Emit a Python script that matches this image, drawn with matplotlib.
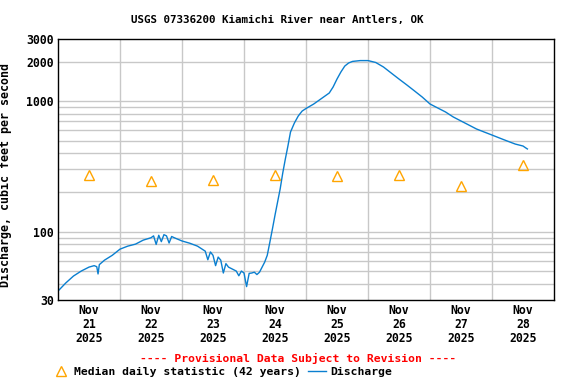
import matplotlib
matplotlib.use("Agg")
import matplotlib.pyplot as plt
from matplotlib.lines import Line2D
from matplotlib.ticker import FixedLocator, NullFormatter

# hours since Nov 21 2025 00:00
hours = [0, 3, 6, 9, 12, 14, 15, 15.5, 16, 18, 21, 24, 27, 30, 33, 36, 37, 38, 39, 40,
         41, 42, 43, 44, 45, 48, 51, 54, 57, 58, 59, 60, 61, 62, 63, 64, 65, 66, 69, 70,
         71, 72, 73, 74, 75, 76, 77, 78, 80, 81, 82, 83, 84, 85, 86, 87, 88, 89, 90, 91.5,
         93, 94.5, 96, 99, 102, 105, 106.5, 108, 109.5, 111, 112.5, 114, 117, 120, 123, 126, 129, 132, 135, 138,
         141, 144, 147, 150, 153, 156, 159, 162, 165, 168, 171, 174, 177, 180, 181, 181.7]
discharge = [35.1, 40.5, 45.8, 50, 53.6, 55, 54, 47.5, 56, 60.6, 66, 73.6, 77.6, 80.4, 86.3, 90, 93, 80, 94, 84,
             95, 93, 82, 92, 90, 85, 81.7, 77.6, 71, 61, 70, 66, 55, 64, 60.6, 48.3, 57, 53.6, 50, 46,
             50, 48.3, 38, 48, 48.3, 49, 47, 49, 58.5, 66, 83, 105, 134, 169, 213, 282, 361, 454, 581, 681,
             771, 841, 880, 953, 1050, 1157, 1287, 1480, 1675, 1860, 1965, 2020, 2050, 2050, 1982, 1830, 1645, 1480, 1335, 1200,
             1077, 953, 888, 828, 758, 706, 658, 613, 581, 551, 522, 495, 470, 454, 440, 431]

median_hours = [12, 36, 60, 84, 108, 132, 156, 180]
median_flow = [272, 245, 249, 272, 267, 272, 224, 324]
day_labels = ["Nov\n21\n2025", "Nov\n22\n2025", "Nov\n23\n2025", "Nov\n24\n2025",
              "Nov\n25\n2025", "Nov\n26\n2025", "Nov\n27\n2025", "Nov\n28\n2025"]

FONT = "DejaVu Sans Mono"
BLUE = "#0a7fd0"
ORANGE = "#ffa500"

fig = plt.figure(figsize=(5.76, 3.84), dpi=100)
ax = fig.add_axes([58/576, 1-300/384, 496/576, 261/384])

ax.plot(hours, discharge, color=BLUE, lw=1)
ax.plot(median_hours, median_flow, "^", ms=6.5, mfc="none", mec=ORANGE, mew=1)

ax.set_yscale("log")
ax.set_ylim(30, 3000)
ax.set_xlim(0, 192)

ygrid = [40, 50, 60, 70, 80, 90, 100, 200, 300, 400, 500, 600, 700, 800, 900, 1000, 2000]
ax.yaxis.set_major_locator(FixedLocator([30, 100, 1000, 2000, 3000]))
ax.yaxis.set_major_formatter(plt.FuncFormatter(lambda v, p: "%d" % v))
ax.yaxis.set_minor_locator(FixedLocator(ygrid))
ax.yaxis.set_minor_formatter(NullFormatter())
ax.grid(False)
for v in ygrid:
    ax.axhline(v, color="#c8c8c8", lw=1, zorder=0)
for d in range(24, 192, 24):
    ax.axvline(d, color="#c8c8c8", lw=1, zorder=0)

ax.set_xticks(median_hours)
ax.set_xticklabels(day_labels, fontfamily=FONT, fontweight="bold", fontsize=8.3, linespacing=1.1)
for lab in ax.get_yticklabels():
    lab.set_fontfamily(FONT)
    lab.set_fontweight("bold")
    lab.set_fontsize(8.3)
ax.tick_params(which="both", length=0, pad=3)
for s in ax.spines.values():
    s.set_color("black")
    s.set_linewidth(1)

ax.set_ylabel("Discharge, cubic feet per second", fontfamily=FONT, fontweight="bold",
              fontsize=8.4, labelpad=6)
ax.yaxis.set_label_coords(-0.093, 0.48)

fig.text(277/576, 1-20/384, "USGS 07336200 Kiamichi River near Antlers, OK", ha="center", va="center",
         fontfamily=FONT, fontweight="bold", fontsize=7.8)
fig.text(298/576, 1-358/384, "---- Provisional Data Subject to Revision ----", ha="center", va="center",
         fontfamily=FONT, fontweight="bold", fontsize=8.2, color="red")

handles = [Line2D([], [], ls="none", marker="^", ms=6.5, mfc="none", mec=ORANGE, mew=1),
           Line2D([], [], color=BLUE, lw=1)]
leg = fig.legend(handles, ["Median daily statistic (42 years)", "Discharge"], ncol=2, frameon=False,
                 loc="center left", bbox_to_anchor=(52/576, 1-372/384), handlelength=1.5,
                 handletextpad=0.4, columnspacing=0.7, borderaxespad=0, borderpad=0,
                 prop={"family": FONT, "weight": "bold", "size": 8.2})

fig.savefig("out.png", dpi=100)
